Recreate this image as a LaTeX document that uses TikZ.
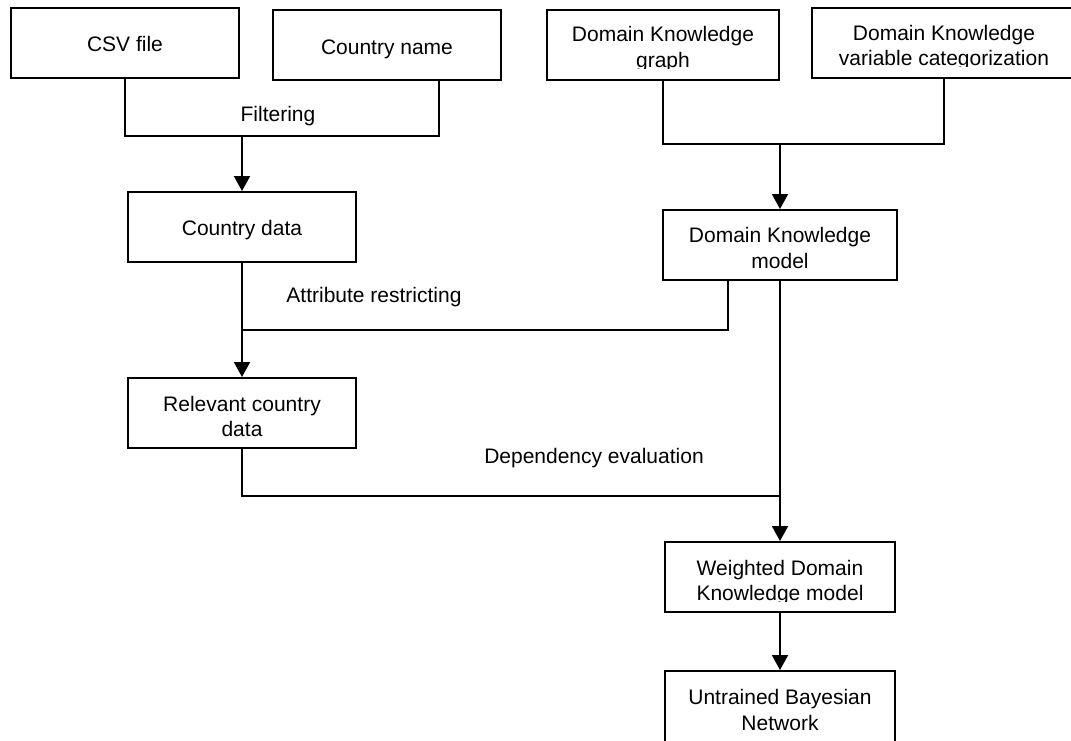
\documentclass[tikz,border=0pt]{standalone}
\usepackage{fontspec}
\setmainfont{Liberation Sans}
\usetikzlibrary{arrows.meta}
\begin{document}
\begin{tikzpicture}[x=1pt,y=-1pt,
  box/.style={draw=black,line width=2pt,inner sep=0pt,fill=white},
  txt/.style={inner sep=0pt,anchor=base,align=center,font=\fontsize{21}{25.7}\selectfont},
  link/.style={line width=2pt},
  arrow/.style={link,-{Triangle[length=15pt,width=16pt]}}
]
% canvas
\fill[white] (0,0) rectangle (1071,740);
\clip (0,0) rectangle (1071,740);

% ---- boxes ----
\node[box,minimum width=228pt,minimum height=70pt] (csv)   at (125,43) {};
\node[box,minimum width=228pt,minimum height=70pt] (cname) at (387,45) {};
\node[box,minimum width=232pt,minimum height=70pt] (dkg)   at (663,45) {};
\node[box,minimum width=264pt,minimum height=70pt] (dkv)   at (944,43) {};
\node[box,minimum width=228pt,minimum height=70pt] (cdata) at (242,227) {};
\node[box,minimum width=234pt,minimum height=70pt] (dkm)   at (780,245) {};
\node[box,minimum width=228pt,minimum height=70pt] (rel)   at (242,413) {};
\node[box,minimum width=230pt,minimum height=70pt] (wdk)   at (780,577) {};
\node[box,minimum width=230pt,minimum height=90pt] (ubn)   at (780,716) {};

% ---- box texts (base = last line) ----
\node[txt] (csvtxt)   at (125,51.7) {CSV file};
\node[txt] (cnametxt) at (387,54) {Country name};
\begin{scope}
  \clip (547,10) rectangle (779,68);
  \node[txt] (dkgtxt) at (663,67.4) {Domain Knowledge\\graph};
\end{scope}
\begin{scope}
  \clip (812,8) rectangle (1076,66.7);
  \node[txt] (dkvtxt) at (944,65.7) {Domain Knowledge\\variable categorization};
\end{scope}
\node[txt] (cdatatxt) at (242,235) {Country data};
\node[txt] (dkmtxt)   at (780,268.3) {Domain Knowledge\\model};
\node[txt] (reltxt)   at (242,436.7) {Relevant country\\data};
\begin{scope}
  \clip (665,542) rectangle (895,601);
  \node[txt] (wdktxt) at (780,600.7) {Weighted Domain\\Knowledge model};
\end{scope}
\node[txt] (ubntxt)   at (780,730) {Untrained Bayesian\\Network};

% ---- connector labels ----
\node[txt] (filtering) at (278,121.7) {Filtering};
\node[txt] (attrib)    at (374,302.7) {Attribute restricting};
\node[txt] (depend)    at (594,463.3) {Dependency evaluation};

% ---- connectors ----
\coordinate (bar1) at (0,136);
\coordinate (bar2) at (0,144);
\coordinate (bar3) at (0,330);
\coordinate (bar4) at (0,496);
\coordinate (cnameout) at (439,80);
\coordinate (dkmout) at (728,280);

% filtering
\draw[link] (csv.south) |- (cnameout |- bar1) -- (cnameout);
\draw[arrow] (cdata.north |- bar1) -- (cdata.north);

% domain knowledge merge
\draw[link] (dkg.south) |- (dkv.south |- bar2) -- (dkv.south);
\draw[arrow] (dkm.north |- bar2) -- (dkm.north);

% attribute restricting
\draw[link] (dkmout) |- (cdata.south |- bar3);
\draw[arrow] (cdata.south) -- (rel.north);

% dependency evaluation
\draw[link] (rel.south) |- (dkm.south |- bar4);
\draw[arrow] (dkm.south) -- (wdk.north);

% final step
\draw[arrow] (wdk.south) -- (ubn.north);
\end{tikzpicture}
\end{document}
